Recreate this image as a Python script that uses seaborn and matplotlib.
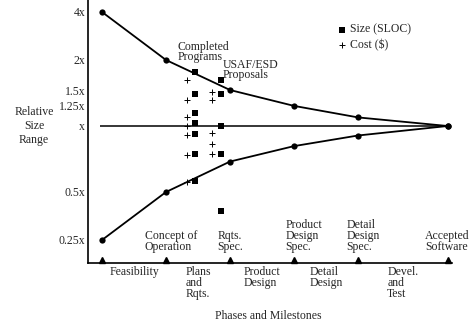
import numpy as np
import pandas as pd
import matplotlib
matplotlib.use('Agg')
import matplotlib.pyplot as plt
import seaborn as sns

# milestones along the x axis and the cone bounds
milestone_x = [0, 1, 2, 3, 4, 5.4]
milestone_labels = ['', 'Concept of\nOperation', 'Rqts.\nSpec.', 'Product\nDesign\nSpec.',
                    'Detail\nDesign\nSpec.', 'Accepted\nSoftware']
upper = [4, 2, 1.5, 1.25, 1.1, 1.0]
lower = [0.25, 0.5, 0.67, 0.8, 0.9, 1.0]
phases = ['Feasibility', 'Plans\nand\nRqts.', 'Product\nDesign', 'Detail\nDesign', 'Devel.\nand\nTest']

# observed estimates
completed_size_x, completed_cost_x = 1.45, 1.33
usaf_size_x, usaf_cost_x = 1.86, 1.72
completed_size = [1.78, 1.43, 1.16, 1.03, 0.915, 0.73, 0.556]
completed_cost = [1.65, 1.34, 1.105, 1.0, 0.905, 0.72, 0.55]
usaf_size = [1.65, 1.43, 1.0, 0.73, 0.38]
usaf_cost = [1.47, 1.34, 0.925, 0.82, 0.73]

yticks = [4, 2, 1.5, 1.25, 1, 0.5, 0.25]
ytick_labels = ['4x', '2x', '1.5x', '1.25x', 'x', '0.5x', '0.25x']

FS = 8.5
sns.set_style('white')
plt.rcParams['font.family'] = ['Liberation Serif', 'DejaVu Serif']
plt.rcParams['font.size'] = FS

# piecewise log scale like the original drawing
LOG_PTS = [0, 0.32, 0.585, 1, 2, 3]
PX_PTS = [0, 20, 36, 66, 114, 162]

def fwd(v):
    l = np.log2(np.clip(v, 1e-9, None))
    return np.sign(l) * np.interp(np.abs(l), LOG_PTS, PX_PTS)

def inv(p):
    p = np.asarray(p, dtype=float)
    return 2 ** (np.sign(p) * np.interp(np.abs(p), PX_PTS, LOG_PTS))

fig = plt.figure(figsize=(4.77, 3.25), dpi=100)
ax = fig.add_axes([88 / 477, 62 / 325, 364 / 477, 263 / 325])
ax.set_yscale('function', functions=(fwd, inv))

cone = pd.DataFrame({'x': milestone_x * 2, 'y': upper + lower,
                     'side': ['upper'] * 6 + ['lower'] * 6})
sns.lineplot(data=cone, x='x', y='y', units='side', estimator=None, color='black',
             lw=1.3, marker='o', markersize=4.5, markeredgewidth=0, ax=ax)
ax.hlines(1, -0.03, 5.45, color='black', lw=1.1)

size_df = pd.DataFrame({'x': [completed_size_x] * len(completed_size) + [usaf_size_x] * len(usaf_size),
                        'y': completed_size + usaf_size})
cost_df = pd.DataFrame({'x': [completed_cost_x] * len(completed_cost) + [usaf_cost_x] * len(usaf_cost),
                        'y': completed_cost + usaf_cost})
sns.scatterplot(data=size_df, x='x', y='y', marker='s', s=22, color='black', linewidth=0,
                label='Size (SLOC)', ax=ax, zorder=4)
sns.scatterplot(data=cost_df, x='x', y='y', marker='+', s=20, color='black', linewidth=0.7,
                label='Cost ($)', ax=ax, zorder=4)

ax.set_xlim(-0.219, 5.469)
ax.set_ylim(inv(-137), inv(126))
ax.set_xticks([])
ax.set_yticks(yticks)
ax.set_yticklabels(ytick_labels)
ax.yaxis.set_minor_locator(matplotlib.ticker.NullLocator())
ax.tick_params(axis='y', length=0, pad=2, labelsize=FS)
for s in ['top', 'right']:
    ax.spines[s].set_visible(False)
for s in ['left', 'bottom']:
    ax.spines[s].set_color('black')
    ax.spines[s].set_linewidth(1.2)

# milestone triangles and labels
ax.plot(milestone_x, [0.012] * len(milestone_x), '^', color='black', markersize=5,
        transform=ax.get_xaxis_transform(), clip_on=False)
label_shift = [0, 0.08, 0, 0.15, 0.08, 0]
for x, lab, dx in zip(milestone_x, milestone_labels, label_shift):
    ax.annotate(lab, (x + dx, 0), xycoords=('data', 'axes fraction'), xytext=(0, 7),
                textcoords='offset points', ha='center', va='bottom', multialignment='left',
                linespacing=0.9)
for i, ph in enumerate(phases):
    mid = (milestone_x[i] + milestone_x[i + 1]) / 2
    ax.annotate(ph, (mid, 0), xycoords=('data', 'axes fraction'), xytext=(0, -2),
                textcoords='offset points', ha='center', va='top', multialignment='left',
                linespacing=0.9)

ax.text(0.247, 0.845, 'Completed\nPrograms', transform=ax.transAxes, va='top', ha='left',
        linespacing=0.85)
ax.text(0.371, 0.775, 'USAF/ESD\nProposals', transform=ax.transAxes, va='top', ha='left',
        linespacing=0.75)

ax.legend(loc='upper left', bbox_to_anchor=(0.687, 0.91), frameon=False, handlelength=0.6,
          handletextpad=0.4, borderpad=0, borderaxespad=0, labelspacing=0.25, fontsize=FS)

ax.set_ylabel('Relative\nSize\nRange', rotation=0, ha='center', va='center', fontsize=FS)
ax.yaxis.set_label_coords(-54 / 364, 137 / 263)
ax.set_xlabel('Phases and Milestones', fontsize=FS, va='center')
ax.xaxis.set_label_coords(0.495, -0.2)

fig.savefig('out.png', dpi=100)
